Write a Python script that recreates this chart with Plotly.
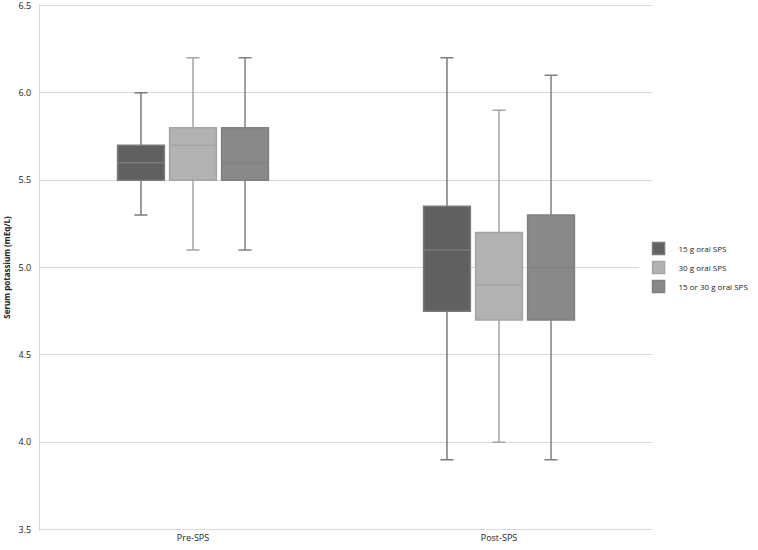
import plotly.graph_objects as go

# Summary statistics (serum potassium, mEq/L)
groups = ["Pre-SPS", "Post-SPS"]
series = ["15 g oral SPS", "30 g oral SPS", "15 or 30 g oral SPS"]

low = [[5.3, 3.9], [5.1, 4.0], [5.1, 3.9]]
q1 = [[5.5, 4.75], [5.5, 4.7], [5.5, 4.7]]
median = [[5.6, 5.1], [5.7, 4.9], [5.6, 5.0]]
q3 = [[5.7, 5.35], [5.8, 5.2], [5.8, 5.3]]
high = [[6.0, 6.2], [6.2, 5.9], [6.2, 6.1]]

y_ticks = [3.5, 4.0, 4.5, 5.0, 5.5, 6.0, 6.5]
y_labels = ["3.5", "4.0", "4.5", "5.0", "5.5", "6.0", "6.5"]

fills = ["#606060", "#b2b2b2", "#898989"]
lines = ["#7a7a7a", "#a4a4a4", "#808080"]

fig = go.Figure()
for i, name in enumerate(series):
    fig.add_trace(go.Box(
        x=groups,
        name=name,
        q1=q1[i],
        median=median[i],
        q3=q3[i],
        lowerfence=low[i],
        upperfence=high[i],
        fillcolor=fills[i],
        line=dict(color=lines[i], width=1.5),
        whiskerwidth=0.28,
        boxpoints=False,
    ))

fig.update_layout(
    boxmode="group",
    boxgap=0.49,
    boxgroupgap=0.1,
    width=758,
    height=550,
    margin=dict(l=40, r=106, t=4, b=19),
    paper_bgcolor="white",
    plot_bgcolor="white",
    font=dict(family="Open Sans, sans-serif", size=9, color="#222"),
    xaxis=dict(
        showgrid=False,
        showline=False,
        ticks="",
        automargin=False,
        tickfont=dict(size=9),
    ),
    yaxis=dict(
        range=[3.492, 6.508],
        tickmode="array",
        tickvals=y_ticks,
        ticktext=y_labels,
        ticklabeloverflow="allow",
        gridcolor="#d9d9d9",
        showline=True,
        linecolor="#d9d9d9",
        zeroline=False,
        ticks="",
        automargin=False,
        ticklabelstandoff=6,
        title=dict(text="<b>Serum potassium (mEq/L)</b>", font=dict(size=8), standoff=6),
    ),
    legend=dict(
        x=0.978,
        y=0.5,
        xanchor="left",
        yanchor="middle",
        font=dict(size=8),
        itemwidth=30,
        tracegroupgap=4,
    ),
)

fig.write_html(
    "out.html",
    config={"displayModeBar": False},
    post_script="document.body.style.margin='0';",
)
